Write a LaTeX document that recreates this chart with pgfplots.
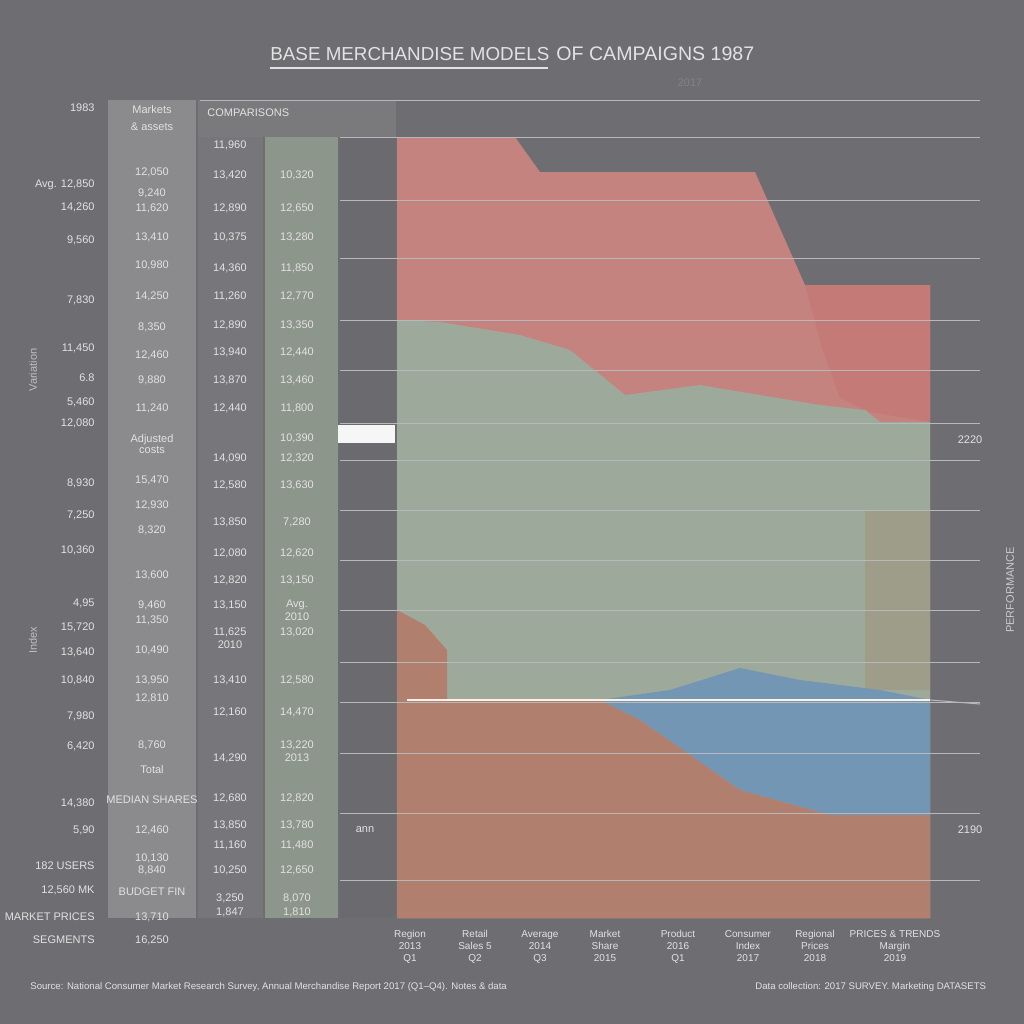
\documentclass[border=0pt]{standalone}
\usepackage{fontspec}
\setmainfont{Liberation Sans}
\usepackage{pgfplots}
\pgfplotsset{compat=1.18}
\definecolor{bg}{HTML}{6E6E72}
\definecolor{colA}{HTML}{8B8B8D}
\definecolor{colB}{HTML}{77777B}
\definecolor{colC}{HTML}{8D968B}
\definecolor{txt}{HTML}{E2E2E2}
\definecolor{redA}{HTML}{C4837F}
\definecolor{redB}{HTML}{C47B77}
\definecolor{greenA}{HTML}{9DAA9B}
\definecolor{oliveA}{HTML}{9E9D89}
\definecolor{orangeA}{HTML}{B17F6E}
\definecolor{blueA}{HTML}{7396B4}
\definecolor{gridc}{HTML}{B8B8BC}
\begin{document}
\begin{tikzpicture}[x=0.5pt,y=-0.5pt,
  t/.style={text=txt, font=\fontsize{5.5}{6}\selectfont, inner sep=0pt, align=center}]
\fill[bg] (0,0) rectangle (1024,1024);
\path[use as bounding box] (0,0) rectangle (1024,1024);
\coordinate (A) at (340,918);
% table columns
\fill[colA] (108,100) rectangle (196,918);
\fill[colB] (198,137) rectangle (263,918);
\fill[colC] (265,137) rectangle (338,918);
\fill[bg!92!white] (198,100) rectangle (396,137);
\fill[bg!97!black] (340,137) rectangle (396,918);
\draw[gridc, line width=0.4pt] (200,100) -- (980,100);
% title
\node[t, anchor=base west, font=\fontsize{9.4}{11}\selectfont] at (270,60) {BASE MERCHANDISE MODELS};
\draw[txt, line width=0.6pt] (270,68) -- (548,68);
\node[t, anchor=base west, font=\fontsize{9.8}{11}\selectfont] at (556,60) {OF CAMPAIGNS 1987};
\node[t, anchor=base, text=bg!85!white] at (690,86) {2017};
\begin{axis}[at={(A)}, anchor=south west, scale only axis,
  width=320pt, height=409pt,
  xmin=340, xmax=980, ymin=0, ymax=818,
  axis line style={draw=none}, major tick length=0pt,
  axis on top,
  ytick={781,718,660,598,548,495,458,408,358,308,256,216,165,105,38},
  yticklabels={}, ymajorgrids,
  grid style={gridc, line width=0.4pt},
  xtick={410,475,540,605,678,748,815,895},
  xticklabels={{Region\\2013\\Q1},{Retail\\Sales 5\\Q2},{Average\\2014\\Q3},{Market\\Share\\2015},{Product\\2016\\Q1},{Consumer\\Index\\2017},{Regional\\Prices\\2018},{PRICES \& TRENDS\\Margin\\2019}},
  xticklabel style={text=txt, font=\fontsize{5}{6}\selectfont, align=center, inner sep=0pt, yshift=-6pt},
  clip=false]
% red top area
\addplot[fill=redA, draw=none] coordinates {(397,781) (515,781) (540,746) (755,746) (805,633) (930,633) (930,0) (397,0)} \closedcycle;
\addplot[fill=redB, draw=none] coordinates {(805,633) (930,633) (930,496) (870,506) (840,520) (822,570) (805,633)} -- cycle;
% green middle area
\addplot[fill=greenA, draw=none] coordinates {(397,598) (440,596) (520,583) (570,568) (625,523) (700,533) (760,523) (820,513) (865,508) (880,496) (930,496) (930,0) (397,0)} \closedcycle;
\addplot[fill=oliveA, draw=none] coordinates {(865,408) (930,408) (930,228) (865,228)} -- cycle;
% blue band
\addplot[fill=blueA, draw=none] coordinates {(600,218) (670,228) (740,250) (800,238) (880,228) (930,218) (930,103) (830,103) (740,128) (640,198)} -- cycle;
% orange bottom area
\addplot[fill=orangeA, draw=none] coordinates {(397,308) (425,293) (447,268) (447,218) (600,218) (640,198) (740,128) (830,103) (930,103) (930,0) (397,0)} \closedcycle;
% reference line
\addplot[white!90!orange, line width=0.8pt] coordinates {(407,218) (930,218)};
\addplot[gridc, line width=0.5pt] coordinates {(930,218) (980,214)};
\end{axis}
% legend marker
\fill[white!93!gray] (338,425) rectangle (395,443);
% side values
\node[t] at (970,440) {2220};
\node[t] at (970,830) {2190};
\node[t] at (365,830) {ann};
\node[t, rotate=90, text=txt!80!bg] at (1010,590) {PERFORMANCE};
\node[t, rotate=90, text=txt!70!bg] at (33,370) {Variation};
\node[t, rotate=90, text=txt!70!bg] at (33,640) {Index};
% column headers
\node[t] at (152,110) {Markets};
\node[t] at (152,127) {\& assets};
\node[t, anchor=west] at (207,113) {COMPARISONS};
% row labels
\foreach \y/\s in {108/1983,185/{Avg. 12,850},207/{14,260},240/{9,560},300/{7,830},348/{11,450},378/{6.8},402/{5,460},423/{12,080},483/{8,930},515/{7,250},550/{10,360},603/{4,95},627/{15,720},652/{13,640},680/{10,840},716/{7,980},746/{6,420},803/{14,380},830/{5,90},866/{182 USERS},890/{12,560 MK},917/{MARKET PRICES},940/{SEGMENTS}}
  \node[t, anchor=east] at (95,\y) {\s};
% column 1
\foreach \y/\s in {172/{12,050},193/{9,240},208/{11,620},237/{13,410},265/{10,980},296/{14,250},327/{8,350},355/{12,460},380/{9,880},408/{11,240},440/{Adjusted},450/{costs},480/{15,470},505/{12,930},530/{8,320},575/{13,600},605/{9,460},620/{11,350},650/{10,490},680/{13,950},698/{12,810},745/{8,760},770/{Total},800/{MEDIAN SHARES},830/{12,460},858/{10,130},870/{8,840},892/{BUDGET FIN},917/{13,710},940/{16,250}}
  \node[t] at (152,\y) {\s};
% column 2
\foreach \y/\s in {145/{11,960},175/{13,420},208/{12,890},237/{10,375},268/{14,360},296/{11,260},325/{12,890},352/{13,940},380/{13,870},408/{12,440},458/{14,090},485/{12,580},522/{13,850},553/{12,080},580/{12,820},605/{13,150},632/{11,625},645/{2010},680/{13,410},712/{12,160},758/{14,290},798/{12,680},825/{13,850},845/{11,160},870/{10,250},898/{3,250},912/{1,847}}
  \node[t] at (230,\y) {\s};
% column 3
\foreach \y/\s in {175/{10,320},208/{12,650},237/{13,280},268/{11,850},296/{12,770},325/{13,350},352/{12,440},380/{13,460},408/{11,800},438/{10,390},458/{12,320},485/{13,630},522/{7,280},553/{12,620},580/{13,150},605/{Avg.},617/{2010},632/{13,020},680/{12,580},712/{14,470},745/{13,220},758/{2013},798/{12,820},825/{13,780},845/{11,480},870/{12,650},898/{8,070},912/{1,810}}
  \node[t] at (297,\y) {\s};
% footer
\node[t, anchor=west, font=\fontsize{4.8}{5}\selectfont] at (30,987) {Source: National Consumer Market Research Survey, Annual Merchandise Report 2017 (Q1--Q4). Notes \& data};
\node[t, anchor=west, font=\fontsize{4.8}{5}\selectfont] at (755,987) {Data collection: 2017 SURVEY. Marketing DATASETS};
\end{tikzpicture}
\end{document}
